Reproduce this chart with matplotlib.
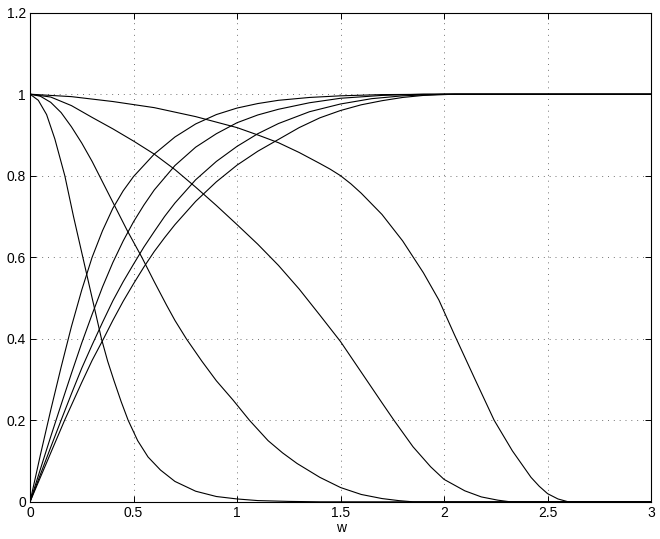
import matplotlib
matplotlib.use("Agg")
import matplotlib.pyplot as plt

plt.rcParams.update({"font.family": ["Liberation Sans", "DejaVu Sans"], "font.size": 10})

# decreasing curves
d1_x = [0, 0.04, 0.08, 0.12, 0.168, 0.21, 0.255, 0.3, 0.345, 0.375, 0.405, 0.44, 0.474,
        0.52, 0.57, 0.63, 0.7, 0.8, 0.9, 1.0, 1.1, 1.25, 1.4, 3.0]
d1_y = [1, 0.985, 0.95, 0.89, 0.8, 0.7, 0.6, 0.5, 0.4, 0.345, 0.298, 0.246, 0.2,
        0.15, 0.11, 0.078, 0.05, 0.026, 0.013, 0.007, 0.003, 0.001, 0, 0]
d2_x = [0, 0.05, 0.1, 0.15, 0.2, 0.25, 0.3, 0.335, 0.4, 0.47, 0.54, 0.6, 0.66, 0.7, 0.755,
        0.83, 0.9, 0.98, 1.06, 1.15, 1.22, 1.29, 1.4, 1.5, 1.6, 1.7, 1.78, 1.85, 3.0]
d2_y = [1, 0.995, 0.98, 0.955, 0.92, 0.88, 0.835, 0.8, 0.735, 0.665, 0.6, 0.54, 0.482,
        0.445, 0.4, 0.345, 0.297, 0.25, 0.2, 0.15, 0.12, 0.094, 0.06, 0.035, 0.018,
        0.008, 0.003, 0, 0]
d3_x = [0, 0.1, 0.2, 0.3, 0.4, 0.5, 0.6, 0.7, 0.8, 0.9, 1.0, 1.1, 1.2, 1.3, 1.4, 1.5,
        1.6, 1.7, 1.758, 1.85, 1.935, 2.0, 2.1, 2.18, 2.26, 2.32, 3.0]
d3_y = [1, 0.993, 0.972, 0.943, 0.915, 0.885, 0.853, 0.815, 0.772, 0.727, 0.68, 0.632,
        0.58, 0.522, 0.458, 0.393, 0.318, 0.243, 0.2, 0.135, 0.086, 0.055, 0.027, 0.012,
        0.004, 0, 0]
d4_x = [0, 0.2, 0.4, 0.6, 0.8, 1.0, 1.1, 1.2, 1.3, 1.4, 1.45, 1.5, 1.55, 1.6, 1.7, 1.8,
        1.9, 1.975, 2.05, 2.15, 2.242, 2.33, 2.42, 2.46, 2.5, 2.55, 2.6, 3.0]
d4_y = [1, 0.994, 0.982, 0.967, 0.945, 0.918, 0.9, 0.881, 0.857, 0.83, 0.816, 0.8, 0.78,
        0.757, 0.705, 0.64, 0.562, 0.495, 0.41, 0.3, 0.2, 0.125, 0.06, 0.038, 0.02,
        0.007, 0, 0]

# increasing curves
i1_x = [0, 0.05, 0.1, 0.15, 0.2, 0.25, 0.3, 0.35, 0.4, 0.45, 0.5, 0.6, 0.7, 0.8, 0.9,
        1.0, 1.1, 1.2, 1.35, 1.5, 1.7, 2.0, 3.0]
i1_y = [0, 0.115, 0.225, 0.33, 0.43, 0.52, 0.6, 0.665, 0.72, 0.763, 0.798, 0.853, 0.895,
        0.927, 0.95, 0.966, 0.977, 0.985, 0.992, 0.996, 0.999, 1, 1]
i2_x = [0, 0.05, 0.1, 0.15, 0.2, 0.25, 0.3, 0.35, 0.4, 0.45, 0.5, 0.55, 0.6, 0.7, 0.8,
        0.9, 1.0, 1.1, 1.2, 1.35, 1.5, 1.7, 1.9, 3.0]
i2_y = [0, 0.08, 0.16, 0.238, 0.315, 0.39, 0.46, 0.527, 0.587, 0.64, 0.687, 0.728, 0.765,
        0.825, 0.87, 0.903, 0.93, 0.949, 0.963, 0.979, 0.99, 0.997, 1, 1]
i3_x = [0, 0.05, 0.1, 0.15, 0.2, 0.25, 0.3, 0.35, 0.4, 0.45, 0.5, 0.55, 0.6, 0.65, 0.7,
        0.8, 0.9, 1.0, 1.1, 1.2, 1.35, 1.5, 1.65, 1.8, 2.0, 3.0]
i3_y = [0, 0.067, 0.134, 0.2, 0.265, 0.328, 0.385, 0.44, 0.493, 0.54, 0.583, 0.625, 0.663,
        0.7, 0.733, 0.79, 0.835, 0.872, 0.903, 0.928, 0.957, 0.976, 0.989, 0.996, 1, 1]
i4_x = [0, 0.05, 0.1, 0.167, 0.2, 0.25, 0.3, 0.355, 0.4, 0.45, 0.5, 0.55, 0.6, 0.65, 0.7,
        0.8, 0.9, 1.0, 1.1, 1.2, 1.3, 1.4, 1.5, 1.6, 1.7, 1.8, 1.9, 2.05, 3.0]
i4_y = [0, 0.06, 0.12, 0.2, 0.237, 0.293, 0.347, 0.4, 0.445, 0.492, 0.535, 0.576, 0.614,
        0.648, 0.68, 0.737, 0.785, 0.826, 0.86, 0.889, 0.918, 0.942, 0.96, 0.974, 0.984,
        0.992, 0.997, 1, 1]

xticks = [0, 0.5, 1, 1.5, 2, 2.5, 3]
xticklabels = ["0", "0.5", "1", "1.5", "2", "2.5", "3"]
yticks = [0, 0.2, 0.4, 0.6, 0.8, 1.0, 1.2]
yticklabels = ["0", "0.2", "0.4", "0.6", "0.8", "1", "1.2"]

fig = plt.figure(figsize=(6.6, 5.39), dpi=100)
ax = fig.add_axes([0.0455, 0.069, 0.941, 0.9075])

for xs, ys in [(d1_x, d1_y), (d2_x, d2_y), (d3_x, d3_y), (d4_x, d4_y),
               (i1_x, i1_y), (i2_x, i2_y), (i3_x, i3_y), (i4_x, i4_y)]:
    ax.plot(xs, ys, color="k", lw=0.8)

ax.set_xlim(0, 3); ax.set_ylim(0, 1.2)
ax.set_xticks(xticks); ax.set_xticklabels(xticklabels)
ax.set_yticks(yticks); ax.set_yticklabels(yticklabels)
ax.grid(True, color="0.45", ls=(0, (1, 5)), lw=0.7)
ax.tick_params(direction="in", length=4, width=0.7, top=True, right=True, pad=3)
for s in ax.spines.values():
    s.set_linewidth(0.8)
ax.set_xlabel("w", labelpad=1)

fig.savefig("out.png", dpi=100)
